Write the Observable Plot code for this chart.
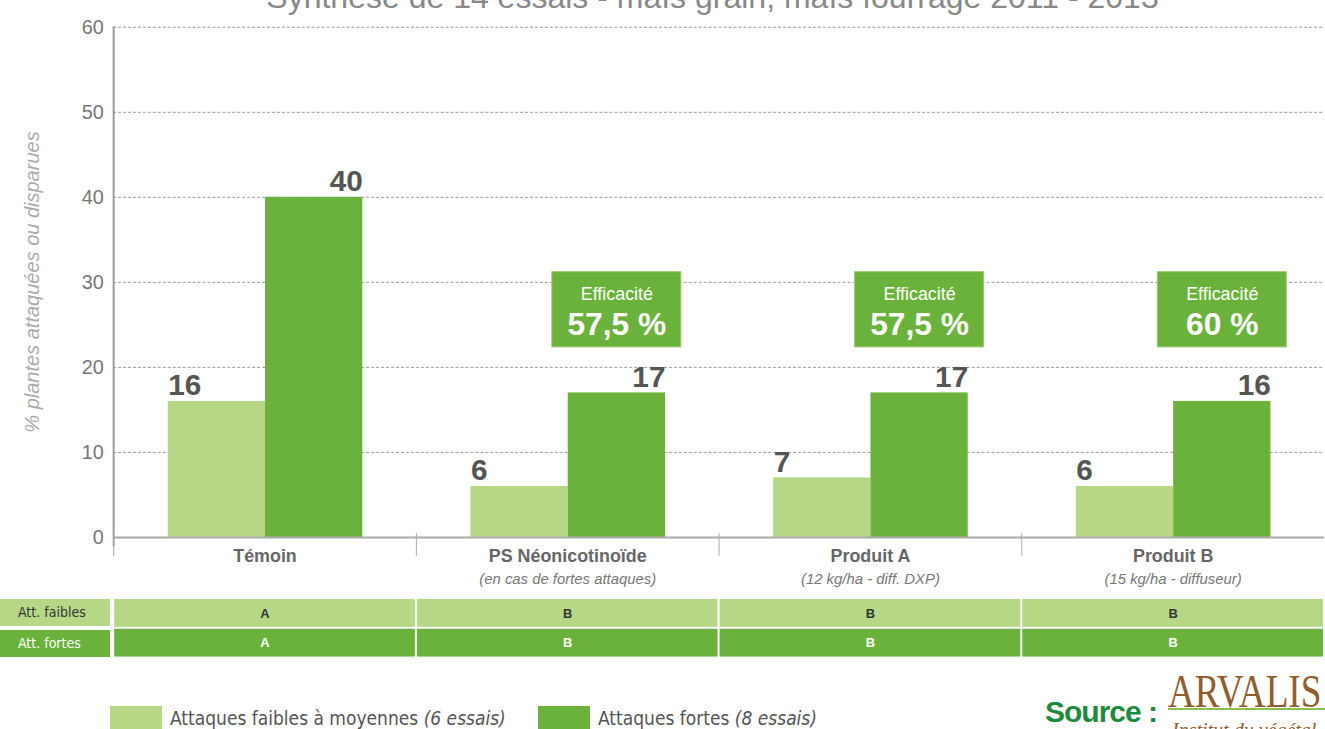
<!DOCTYPE html>
<html><head><meta charset="utf-8">
<script src="https://cdn.jsdelivr.net/npm/d3@7"></script>
<script src="https://cdn.jsdelivr.net/npm/@observablehq/plot@0.6"></script>
<style>
body{margin:0;width:1325px;height:729px;overflow:hidden;position:relative;background:#fff;font-family:"Liberation Sans",Arial,sans-serif;}
#title{position:absolute;top:-21px;left:0;width:1425px;text-align:center;font-size:32px;color:#888;z-index:2;white-space:nowrap;}
#chart{position:absolute;top:0;left:0;}
#table{position:absolute;top:596px;left:0;}
.rowlab{position:absolute;left:0;width:110px;height:27px;line-height:27px;font-family:"Liberation Sans Narrow","DejaVu Sans Condensed",sans-serif;font-size:14px;padding-left:18px;box-sizing:border-box;}
#ylab{position:absolute;left:32px;top:282px;transform:translate(-50%,-50%) rotate(-90deg);font-style:italic;font-size:20px;color:#aaa;white-space:nowrap;}
.leg{position:absolute;top:706px;font-family:"Liberation Sans Narrow","DejaVu Sans Condensed",sans-serif;font-size:19px;color:#555;display:flex;align-items:center;white-space:nowrap;}
.sw{width:52px;height:24px;margin-right:8px;display:inline-block;}
#source{position:absolute;left:1045px;top:696px;font-family:"Liberation Sans",Arial,sans-serif;font-weight:bold;font-size:30px;letter-spacing:-1px;line-height:32px;color:#1f8a3c;white-space:nowrap;}
#arvalis{position:absolute;left:1168px;top:664px;font-family:"Liberation Serif","DejaVu Serif",serif;font-size:40px;color:#8f5e2e;white-space:nowrap;transform:scale(0.93,1.15);transform-origin:left top;}
#arvline{position:absolute;left:1168px;top:708px;width:170px;height:2px;background:#8cc04a;}
#arvsub{position:absolute;left:1172px;top:719px;font-family:"Liberation Serif",serif;font-style:italic;font-size:20px;color:#8f5e2e;white-space:nowrap;}
</style></head><body>
<div id="title">Synthèse de 14 essais - maïs grain, maïs fourrage 2011 - 2013</div>
<div id="chart"></div>
<div id="ylab">% plantes attaquées ou disparues</div>
<div id="table"></div>
<div class="rowlab" style="top:599px;background:#b6d886;color:#333;">Att. faibles</div>
<div class="rowlab" style="top:630px;background:#6bb23c;color:#fff;">Att. fortes</div>
<div class="leg" style="left:110px;"><span class="sw" style="background:#b6d886"></span>Attaques faibles à moyennes&nbsp;<i>(6 essais)</i></div>
<div class="leg" style="left:538px;"><span class="sw" style="background:#6bb23c"></span>Attaques fortes&nbsp;<i>(8 essais)</i></div>
<div id="arvalis">ARVALIS</div>
<div id="arvline"></div>
<div id="arvsub">Institut du végétal</div>
<div id="source">Source :</div>
<script>
// ---- data ----
const categories = ["Témoin", "PS Néonicotinoïde", "Produit A", "Produit B"];
const subLabels = ["", "(en cas de fortes attaques)", "(12 kg/ha - diff. DXP)", "(15 kg/ha - diffuseur)"];
const series = ["faibles", "fortes"];
const faibles = [16, 6, 7, 6];
const fortes = [40, 17, 17, 16];
const efficacite = [null, "57,5 %", "57,5 %", "60 %"];
const groupesFaibles = ["A", "B", "B", "B"];
const groupesFortes = ["A", "B", "B", "B"];
const tableRowNames = ["Att. faibles", "Att. fortes"];
const yTicks = [0, 10, 20, 30, 40, 50, 60];

// ---- style ----
const LIGHT = "#b6d886", DARK = "#6bb23c";
const EFF_BOX = [22.35, 31.2];

const rows = categories.flatMap((c, i) => [
  {cat: c, serie: "faibles", value: faibles[i]},
  {cat: c, serie: "fortes", value: fortes[i]}
]);
const catRows = categories.map((c, i) => ({cat: c, sub: subLabels[i]}));
const effRows = categories.map((c, i) => ({cat: c, serie: "fortes", eff: efficacite[i]})).filter(d => d.eff);

const chart = Plot.plot({
  width: 1335, height: 600,
  marginLeft: 113, marginRight: 0, marginTop: 27, marginBottom: 59,
  style: {fontFamily: "Liberation Sans, Arial, sans-serif", background: "transparent", overflow: "visible"},
  fx: {domain: categories, padding: 0, axis: null},
  x: {domain: series, paddingInner: 0, paddingOuter: 0.556, axis: null},
  y: {domain: [0, 60]},
  color: {domain: series, range: [LIGHT, DARK]},
  marks: [
    Plot.gridY(yTicks.filter(d => d > 0), {stroke: "#999", strokeOpacity: 1, strokeDasharray: "3,2"}),
    Plot.axisY(yTicks, {tickSize: 0, tickPadding: 10, fontSize: 20, fill: "#777", label: null}),
    Plot.barY(rows, {fx: "cat", x: "serie", y: "value", fill: "serie"}),
    Plot.ruleY([0], {stroke: "#aaa", strokeWidth: 2}),
    Plot.frame({anchor: "left", stroke: "#999", strokeWidth: 2, facetAnchor: "left", insetBottom: -8}),
    Plot.frame({anchor: "left", stroke: "#aaa", insetTop: 510, insetBottom: -18}),
    Plot.text(rows.filter(d => d.serie === "faibles"), {fx: "cat", x: "serie", y: "value", text: "value",
      textAnchor: "start", dx: -49, lineAnchor: "bottom", dy: -6, fontSize: 30, fontWeight: "bold", fill: "#555"}),
    Plot.text(rows.filter(d => d.serie === "fortes"), {fx: "cat", x: "serie", y: "value", text: "value",
      textAnchor: "end", dx: 49, lineAnchor: "bottom", dy: -6, fontSize: 30, fontWeight: "bold", fill: "#555"}),
    Plot.barY(effRows, {fx: "cat", x: "serie", y1: EFF_BOX[0], y2: EFF_BOX[1], fill: DARK, stroke: "#9ccc70",
      insetLeft: -16, insetRight: -16}),
    Plot.text(effRows, {fx: "cat", x: "serie", y: EFF_BOX[1], text: () => "Efficacité", lineAnchor: "top", dy: 15,
      fill: "#fff", fontSize: 18}),
    Plot.text(effRows, {fx: "cat", x: "serie", y: EFF_BOX[0], text: "eff", lineAnchor: "bottom", dy: -12,
      fill: "#fff", fontSize: 32, fontWeight: "bold"}),
    Plot.text(catRows, {fx: "cat", y: 0, text: "cat", dy: 19, fontSize: 18, fontWeight: "bold", fill: "#666"}),
    Plot.text(catRows, {fx: "cat", y: 0, text: "sub", dy: 42, fontSize: 15, fontStyle: "italic", fill: "#777"})
  ]
});
document.getElementById("chart").append(chart);

const tableRows = categories.flatMap((c, i) => [
  {cat: c, row: tableRowNames[0], g: groupesFaibles[i]},
  {cat: c, row: tableRowNames[1], g: groupesFortes[i]}
]);
const table = Plot.plot({
  width: 1335, height: 62,
  marginLeft: 113, marginRight: 0, marginTop: 2, marginBottom: 0,
  style: {fontFamily: "Liberation Sans, Arial, sans-serif", background: "transparent"},
  x: {domain: categories, padding: 0, axis: null},
  y: {domain: tableRowNames, padding: 0, axis: null},
  marks: [
    Plot.cell(tableRows.filter(d => d.row === tableRowNames[0]), {x: "cat", y: "row", fill: LIGHT, insetLeft: 1, insetRight: 1, insetTop: 1, insetBottom: 1}),
    Plot.cell(tableRows.filter(d => d.row === tableRowNames[1]), {x: "cat", y: "row", fill: DARK, insetLeft: 1, insetRight: 1, insetTop: 1, insetBottom: 1}),
    Plot.text(tableRows.filter(d => d.row === tableRowNames[0]), {x: "cat", y: "row", text: "g", fill: "#333", fontWeight: "bold", fontSize: 13}),
    Plot.text(tableRows.filter(d => d.row === tableRowNames[1]), {x: "cat", y: "row", text: "g", fill: "#fff", fontWeight: "bold", fontSize: 13})
  ]
});
document.getElementById("table").append(table);
</script>
</body></html>
